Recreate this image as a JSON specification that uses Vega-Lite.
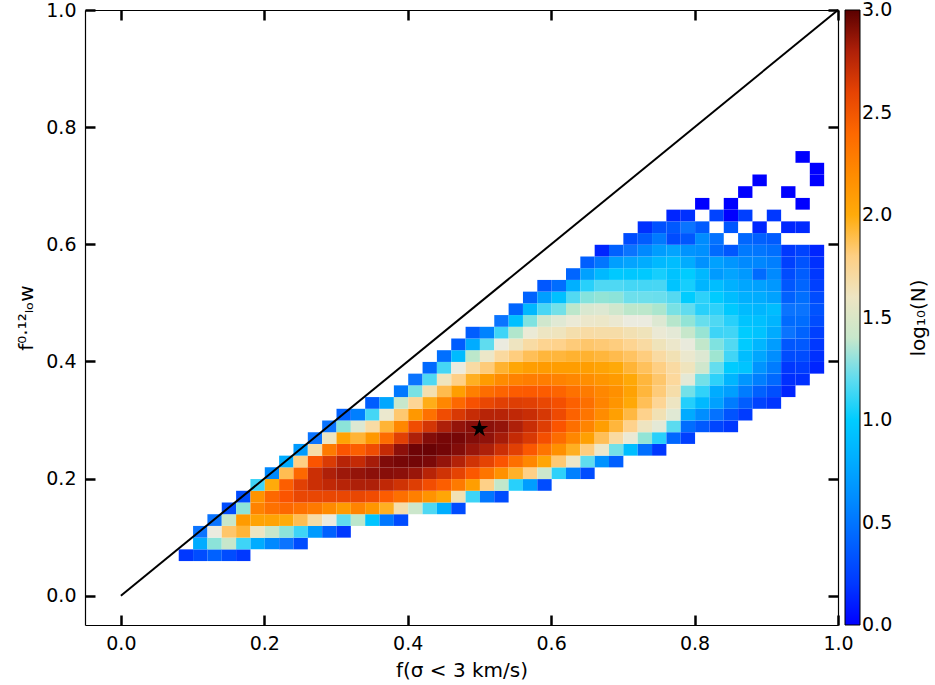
{
  "$schema": "https://vega.github.io/schema/vega-lite/v6.json",
  "width": 753,
  "height": 615,
  "autosize": {"type": "none"},
  "padding": {"left": 85, "top": 10, "right": 97, "bottom": 60},
  "background": "white",
  "config": {
    "view": {"stroke": null},
    "font": "DejaVu Sans",
    "axis": {
      "domainColor": "black", "domainWidth": 1.2, "tickColor": "black", "tickWidth": 2.5,
      "tickSize": -10, "labelPadding": 19, "labelFontSize": 19, "labelColor": "black",
      "labelFont": "DejaVu Sans", "titleFont": "DejaVu Sans", "titleFontSize": 20,
      "titleFontWeight": "normal", "titleColor": "black", "grid": false, "labelFlush": false
    },
    "legend": {
      "offset": 5, "padding": 0, "gradientLength": 615, "gradientThickness": 15,
      "gradientStrokeColor": "black", "gradientStrokeWidth": 1, "labelFontSize": 19,
      "labelColor": "black", "labelFont": "DejaVu Sans", "labelOffset": 9,
      "titleFont": "DejaVu Sans", "titleFontSize": 20, "titleFontWeight": "normal",
      "titleColor": "black", "titleOrient": "right", "titlePadding": 10
    }
  },
  "datasets": {
    "cells": [
      {"x":0.09,"y":0.07,"v":0.2},
      {"x":0.11,"y":0.07,"v":0.3},{"x":0.11,"y":0.09,"v":0.8},{"x":0.11,"y":0.11,"v":0.5},
      {"x":0.13,"y":0.07,"v":0.4},{"x":0.13,"y":0.09,"v":1.3},{"x":0.13,"y":0.11,"v":1.5},{"x":0.13,"y":0.13,"v":0.5},
      {"x":0.15,"y":0.07,"v":0.3},{"x":0.15,"y":0.09,"v":1.4},{"x":0.15,"y":0.11,"v":1.85},{"x":0.15,"y":0.13,"v":1.4},{"x":0.15,"y":0.15,"v":0.3},
      {"x":0.17,"y":0.07,"v":0.2},{"x":0.17,"y":0.09,"v":1.1},{"x":0.17,"y":0.11,"v":1.95},{"x":0.17,"y":0.13,"v":2.1},{"x":0.17,"y":0.15,"v":1.3},{"x":0.17,"y":0.17,"v":0.3},
      {"x":0.19,"y":0.09,"v":0.8},{"x":0.19,"y":0.11,"v":1.6},{"x":0.19,"y":0.13,"v":2.05},{"x":0.19,"y":0.15,"v":2.25},{"x":0.19,"y":0.17,"v":2.15},{"x":0.19,"y":0.19,"v":1.1},
      {"x":0.21,"y":0.09,"v":0.6},{"x":0.21,"y":0.11,"v":1.4},{"x":0.21,"y":0.13,"v":2.05},{"x":0.21,"y":0.15,"v":2.35},{"x":0.21,"y":0.17,"v":2.4},{"x":0.21,"y":0.19,"v":2.0},{"x":0.21,"y":0.21,"v":0.6},
      {"x":0.23,"y":0.09,"v":0.5},{"x":0.23,"y":0.11,"v":1.3},{"x":0.23,"y":0.13,"v":2.0},{"x":0.23,"y":0.15,"v":2.4},{"x":0.23,"y":0.17,"v":2.5},{"x":0.23,"y":0.19,"v":2.45},{"x":0.23,"y":0.21,"v":1.9},{"x":0.23,"y":0.23,"v":0.8},
      {"x":0.25,"y":0.09,"v":0.3},{"x":0.25,"y":0.11,"v":1.1},{"x":0.25,"y":0.13,"v":1.9},{"x":0.25,"y":0.15,"v":2.35},{"x":0.25,"y":0.17,"v":2.58},{"x":0.25,"y":0.19,"v":2.62},{"x":0.25,"y":0.21,"v":2.4},{"x":0.25,"y":0.23,"v":1.8},{"x":0.25,"y":0.25,"v":0.7},
      {"x":0.27,"y":0.11,"v":0.7},{"x":0.27,"y":0.13,"v":1.7},{"x":0.27,"y":0.15,"v":2.3},{"x":0.27,"y":0.17,"v":2.58},{"x":0.27,"y":0.19,"v":2.72},{"x":0.27,"y":0.21,"v":2.72},{"x":0.27,"y":0.23,"v":2.5},{"x":0.27,"y":0.25,"v":1.7},{"x":0.27,"y":0.27,"v":0.5},
      {"x":0.29,"y":0.11,"v":0.4},{"x":0.29,"y":0.13,"v":1.5},{"x":0.29,"y":0.15,"v":2.2},{"x":0.29,"y":0.17,"v":2.58},{"x":0.29,"y":0.19,"v":2.76},{"x":0.29,"y":0.21,"v":2.8},{"x":0.29,"y":0.23,"v":2.65},{"x":0.29,"y":0.25,"v":2.3},{"x":0.29,"y":0.27,"v":1.6},{"x":0.29,"y":0.29,"v":0.5},
      {"x":0.31,"y":0.11,"v":0.2},{"x":0.31,"y":0.13,"v":1.2},{"x":0.31,"y":0.15,"v":2.1},{"x":0.31,"y":0.17,"v":2.58},{"x":0.31,"y":0.19,"v":2.78},{"x":0.31,"y":0.21,"v":2.84},{"x":0.31,"y":0.23,"v":2.78},{"x":0.31,"y":0.25,"v":2.5},{"x":0.31,"y":0.27,"v":2.05},{"x":0.31,"y":0.29,"v":1.3},{"x":0.31,"y":0.31,"v":0.4},
      {"x":0.33,"y":0.13,"v":1.38},{"x":0.33,"y":0.15,"v":2.24},{"x":0.33,"y":0.17,"v":2.58},{"x":0.33,"y":0.19,"v":2.8},{"x":0.33,"y":0.21,"v":2.86},{"x":0.33,"y":0.23,"v":2.75},{"x":0.33,"y":0.25,"v":2.45},{"x":0.33,"y":0.27,"v":1.95},{"x":0.33,"y":0.29,"v":1.45},{"x":0.33,"y":0.31,"v":0.55},
      {"x":0.35,"y":0.13,"v":0.95},{"x":0.35,"y":0.15,"v":2.13},{"x":0.35,"y":0.17,"v":2.55},{"x":0.35,"y":0.19,"v":2.8},{"x":0.35,"y":0.21,"v":2.88},{"x":0.35,"y":0.23,"v":2.82},{"x":0.35,"y":0.25,"v":2.55},{"x":0.35,"y":0.27,"v":2.12},{"x":0.35,"y":0.29,"v":1.71},{"x":0.35,"y":0.31,"v":1.12},{"x":0.35,"y":0.33,"v":0.38},
      {"x":0.37,"y":0.13,"v":0.52},{"x":0.37,"y":0.15,"v":1.98},{"x":0.37,"y":0.17,"v":2.46},{"x":0.37,"y":0.19,"v":2.76},{"x":0.37,"y":0.21,"v":2.89},{"x":0.37,"y":0.23,"v":2.91},{"x":0.37,"y":0.25,"v":2.75},{"x":0.37,"y":0.27,"v":2.38},{"x":0.37,"y":0.29,"v":1.95},{"x":0.37,"y":0.31,"v":1.56},{"x":0.37,"y":0.33,"v":0.77},
      {"x":0.39,"y":0.13,"v":0.3},{"x":0.39,"y":0.15,"v":1.68},{"x":0.39,"y":0.17,"v":2.36},{"x":0.39,"y":0.19,"v":2.7},{"x":0.39,"y":0.21,"v":2.88},{"x":0.39,"y":0.23,"v":2.93},{"x":0.39,"y":0.25,"v":2.88},{"x":0.39,"y":0.27,"v":2.62},{"x":0.39,"y":0.29,"v":2.22},{"x":0.39,"y":0.31,"v":1.84},{"x":0.39,"y":0.33,"v":1.4},{"x":0.39,"y":0.35,"v":0.52},
      {"x":0.41,"y":0.15,"v":1.41},{"x":0.41,"y":0.17,"v":2.27},{"x":0.41,"y":0.19,"v":2.63},{"x":0.41,"y":0.21,"v":2.85},{"x":0.41,"y":0.23,"v":2.94},{"x":0.41,"y":0.25,"v":2.95},{"x":0.41,"y":0.27,"v":2.8},{"x":0.41,"y":0.29,"v":2.55},{"x":0.41,"y":0.31,"v":2.12},{"x":0.41,"y":0.33,"v":1.76},{"x":0.41,"y":0.35,"v":1.27},{"x":0.41,"y":0.37,"v":0.5},
      {"x":0.43,"y":0.15,"v":1.15},{"x":0.43,"y":0.17,"v":2.15},{"x":0.43,"y":0.19,"v":2.54},{"x":0.43,"y":0.21,"v":2.78},{"x":0.43,"y":0.23,"v":2.92},{"x":0.43,"y":0.25,"v":2.96},{"x":0.43,"y":0.27,"v":2.9},{"x":0.43,"y":0.29,"v":2.68},{"x":0.43,"y":0.31,"v":2.35},{"x":0.43,"y":0.33,"v":1.99},{"x":0.43,"y":0.35,"v":1.67},{"x":0.43,"y":0.37,"v":1.15},{"x":0.43,"y":0.39,"v":0.44},
      {"x":0.45,"y":0.15,"v":0.81},{"x":0.45,"y":0.17,"v":2.03},{"x":0.45,"y":0.19,"v":2.45},{"x":0.45,"y":0.21,"v":2.7},{"x":0.45,"y":0.23,"v":2.86},{"x":0.45,"y":0.25,"v":2.94},{"x":0.45,"y":0.27,"v":2.93},{"x":0.45,"y":0.29,"v":2.8},{"x":0.45,"y":0.31,"v":2.55},{"x":0.45,"y":0.33,"v":2.22},{"x":0.45,"y":0.35,"v":1.91},{"x":0.45,"y":0.37,"v":1.62},{"x":0.45,"y":0.39,"v":1.12},{"x":0.45,"y":0.41,"v":0.47},
      {"x":0.47,"y":0.15,"v":0.3},{"x":0.47,"y":0.17,"v":1.65},{"x":0.47,"y":0.19,"v":2.3},{"x":0.47,"y":0.21,"v":2.6},{"x":0.47,"y":0.23,"v":2.79},{"x":0.47,"y":0.25,"v":2.9},{"x":0.47,"y":0.27,"v":2.93},{"x":0.47,"y":0.29,"v":2.86},{"x":0.47,"y":0.31,"v":2.66},{"x":0.47,"y":0.33,"v":2.4},{"x":0.47,"y":0.35,"v":2.08},{"x":0.47,"y":0.37,"v":1.79},{"x":0.47,"y":0.39,"v":1.5},{"x":0.47,"y":0.41,"v":0.89},{"x":0.47,"y":0.43,"v":0.38},
      {"x":0.49,"y":0.17,"v":1.1},{"x":0.49,"y":0.19,"v":2.08},{"x":0.49,"y":0.21,"v":2.48},{"x":0.49,"y":0.23,"v":2.7},{"x":0.49,"y":0.25,"v":2.85},{"x":0.49,"y":0.27,"v":2.9},{"x":0.49,"y":0.29,"v":2.89},{"x":0.49,"y":0.31,"v":2.74},{"x":0.49,"y":0.33,"v":2.52},{"x":0.49,"y":0.35,"v":2.27},{"x":0.49,"y":0.37,"v":1.98},{"x":0.49,"y":0.39,"v":1.71},{"x":0.49,"y":0.41,"v":1.38},{"x":0.49,"y":0.43,"v":0.8},{"x":0.49,"y":0.45,"v":0.38},
      {"x":0.51,"y":0.17,"v":0.51},{"x":0.51,"y":0.19,"v":1.79},{"x":0.51,"y":0.21,"v":2.33},{"x":0.51,"y":0.23,"v":2.6},{"x":0.51,"y":0.25,"v":2.8},{"x":0.51,"y":0.27,"v":2.87},{"x":0.51,"y":0.29,"v":2.88},{"x":0.51,"y":0.31,"v":2.78},{"x":0.51,"y":0.33,"v":2.58},{"x":0.51,"y":0.35,"v":2.37},{"x":0.51,"y":0.37,"v":2.1},{"x":0.51,"y":0.39,"v":1.82},{"x":0.51,"y":0.41,"v":1.58},{"x":0.51,"y":0.43,"v":1.2},{"x":0.51,"y":0.45,"v":0.57},
      {"x":0.53,"y":0.17,"v":0.3},{"x":0.53,"y":0.19,"v":1.39},{"x":0.53,"y":0.21,"v":2.16},{"x":0.53,"y":0.23,"v":2.5},{"x":0.53,"y":0.25,"v":2.72},{"x":0.53,"y":0.27,"v":2.82},{"x":0.53,"y":0.29,"v":2.86},{"x":0.53,"y":0.31,"v":2.78},{"x":0.53,"y":0.33,"v":2.62},{"x":0.53,"y":0.35,"v":2.42},{"x":0.53,"y":0.37,"v":2.2},{"x":0.53,"y":0.39,"v":1.96},{"x":0.53,"y":0.41,"v":1.73},{"x":0.53,"y":0.43,"v":1.5},{"x":0.53,"y":0.45,"v":1.1},{"x":0.53,"y":0.47,"v":0.5},
      {"x":0.55,"y":0.19,"v":1.05},{"x":0.55,"y":0.21,"v":1.97},{"x":0.55,"y":0.23,"v":2.36},{"x":0.55,"y":0.25,"v":2.62},{"x":0.55,"y":0.27,"v":2.75},{"x":0.55,"y":0.29,"v":2.8},{"x":0.55,"y":0.31,"v":2.76},{"x":0.55,"y":0.33,"v":2.63},{"x":0.55,"y":0.35,"v":2.46},{"x":0.55,"y":0.37,"v":2.25},{"x":0.55,"y":0.39,"v":2.03},{"x":0.55,"y":0.41,"v":1.81},{"x":0.55,"y":0.43,"v":1.61},{"x":0.55,"y":0.45,"v":1.36},{"x":0.55,"y":0.47,"v":0.92},{"x":0.55,"y":0.49,"v":0.42},
      {"x":0.57,"y":0.19,"v":0.71},{"x":0.57,"y":0.21,"v":1.79},{"x":0.57,"y":0.23,"v":2.22},{"x":0.57,"y":0.25,"v":2.48},{"x":0.57,"y":0.27,"v":2.66},{"x":0.57,"y":0.29,"v":2.73},{"x":0.57,"y":0.31,"v":2.73},{"x":0.57,"y":0.33,"v":2.62},{"x":0.57,"y":0.35,"v":2.47},{"x":0.57,"y":0.37,"v":2.28},{"x":0.57,"y":0.39,"v":2.08},{"x":0.57,"y":0.41,"v":1.89},{"x":0.57,"y":0.43,"v":1.71},{"x":0.57,"y":0.45,"v":1.53},{"x":0.57,"y":0.47,"v":1.28},{"x":0.57,"y":0.49,"v":0.87},{"x":0.57,"y":0.51,"v":0.41},
      {"x":0.59,"y":0.19,"v":0.3},{"x":0.59,"y":0.21,"v":1.41},{"x":0.59,"y":0.23,"v":2.04},{"x":0.59,"y":0.25,"v":2.33},{"x":0.59,"y":0.27,"v":2.53},{"x":0.59,"y":0.29,"v":2.63},{"x":0.59,"y":0.31,"v":2.67},{"x":0.59,"y":0.33,"v":2.58},{"x":0.59,"y":0.35,"v":2.46},{"x":0.59,"y":0.37,"v":2.28},{"x":0.59,"y":0.39,"v":2.1},{"x":0.59,"y":0.41,"v":1.94},{"x":0.59,"y":0.43,"v":1.77},{"x":0.59,"y":0.45,"v":1.6},{"x":0.59,"y":0.47,"v":1.42},{"x":0.59,"y":0.49,"v":1.13},{"x":0.59,"y":0.51,"v":0.72},{"x":0.59,"y":0.53,"v":0.35},
      {"x":0.61,"y":0.21,"v":1.06},{"x":0.61,"y":0.23,"v":1.83},{"x":0.61,"y":0.25,"v":2.17},{"x":0.61,"y":0.27,"v":2.38},{"x":0.61,"y":0.29,"v":2.5},{"x":0.61,"y":0.31,"v":2.56},{"x":0.61,"y":0.33,"v":2.53},{"x":0.61,"y":0.35,"v":2.42},{"x":0.61,"y":0.37,"v":2.25},{"x":0.61,"y":0.39,"v":2.09},{"x":0.61,"y":0.41,"v":1.94},{"x":0.61,"y":0.43,"v":1.78},{"x":0.61,"y":0.45,"v":1.62},{"x":0.61,"y":0.47,"v":1.46},{"x":0.61,"y":0.49,"v":1.26},{"x":0.61,"y":0.51,"v":0.92},{"x":0.61,"y":0.53,"v":0.46},
      {"x":0.63,"y":0.21,"v":0.56},{"x":0.63,"y":0.23,"v":1.58},{"x":0.63,"y":0.25,"v":1.98},{"x":0.63,"y":0.27,"v":2.22},{"x":0.63,"y":0.29,"v":2.36},{"x":0.63,"y":0.31,"v":2.43},{"x":0.63,"y":0.33,"v":2.44},{"x":0.63,"y":0.35,"v":2.35},{"x":0.63,"y":0.37,"v":2.22},{"x":0.63,"y":0.39,"v":2.09},{"x":0.63,"y":0.41,"v":1.96},{"x":0.63,"y":0.43,"v":1.82},{"x":0.63,"y":0.45,"v":1.68},{"x":0.63,"y":0.47,"v":1.53},{"x":0.63,"y":0.49,"v":1.38},{"x":0.63,"y":0.51,"v":1.16},{"x":0.63,"y":0.53,"v":0.82},{"x":0.63,"y":0.55,"v":0.42},
      {"x":0.65,"y":0.21,"v":0.3},{"x":0.65,"y":0.23,"v":1.2},{"x":0.65,"y":0.25,"v":1.81},{"x":0.65,"y":0.27,"v":2.07},{"x":0.65,"y":0.29,"v":2.24},{"x":0.65,"y":0.31,"v":2.33},{"x":0.65,"y":0.33,"v":2.36},{"x":0.65,"y":0.35,"v":2.29},{"x":0.65,"y":0.37,"v":2.18},{"x":0.65,"y":0.39,"v":2.08},{"x":0.65,"y":0.41,"v":1.96},{"x":0.65,"y":0.43,"v":1.85},{"x":0.65,"y":0.45,"v":1.71},{"x":0.65,"y":0.47,"v":1.57},{"x":0.65,"y":0.49,"v":1.44},{"x":0.65,"y":0.51,"v":1.29},{"x":0.65,"y":0.53,"v":1.05},{"x":0.65,"y":0.55,"v":0.73},{"x":0.65,"y":0.57,"v":0.39},
      {"x":0.67,"y":0.23,"v":0.65},{"x":0.67,"y":0.25,"v":1.57},{"x":0.67,"y":0.27,"v":1.89},{"x":0.67,"y":0.29,"v":2.08},{"x":0.67,"y":0.31,"v":2.19},{"x":0.67,"y":0.33,"v":2.24},{"x":0.67,"y":0.35,"v":2.22},{"x":0.67,"y":0.37,"v":2.14},{"x":0.67,"y":0.39,"v":2.05},{"x":0.67,"y":0.41,"v":1.94},{"x":0.67,"y":0.43,"v":1.83},{"x":0.67,"y":0.45,"v":1.7},{"x":0.67,"y":0.47,"v":1.58},{"x":0.67,"y":0.49,"v":1.45},{"x":0.67,"y":0.51,"v":1.31},{"x":0.67,"y":0.53,"v":1.15},{"x":0.67,"y":0.55,"v":0.88},{"x":0.67,"y":0.57,"v":0.51},{"x":0.67,"y":0.59,"v":0.1},
      {"x":0.69,"y":0.23,"v":0.39},{"x":0.69,"y":0.25,"v":1.26},{"x":0.69,"y":0.27,"v":1.72},{"x":0.69,"y":0.29,"v":1.94},{"x":0.69,"y":0.31,"v":2.07},{"x":0.69,"y":0.33,"v":2.14},{"x":0.69,"y":0.35,"v":2.17},{"x":0.69,"y":0.37,"v":2.1},{"x":0.69,"y":0.39,"v":2.01},{"x":0.69,"y":0.41,"v":1.91},{"x":0.69,"y":0.43,"v":1.81},{"x":0.69,"y":0.45,"v":1.7},{"x":0.69,"y":0.47,"v":1.55},{"x":0.69,"y":0.49,"v":1.42},{"x":0.69,"y":0.51,"v":1.3},{"x":0.69,"y":0.53,"v":1.15},{"x":0.69,"y":0.55,"v":0.98},{"x":0.69,"y":0.57,"v":0.72},{"x":0.69,"y":0.59,"v":0.4},
      {"x":0.71,"y":0.25,"v":0.91},{"x":0.71,"y":0.27,"v":1.54},{"x":0.71,"y":0.29,"v":1.78},{"x":0.71,"y":0.31,"v":1.93},{"x":0.71,"y":0.33,"v":2.02},{"x":0.71,"y":0.35,"v":2.06},{"x":0.71,"y":0.37,"v":2.02},{"x":0.71,"y":0.39,"v":1.95},{"x":0.71,"y":0.41,"v":1.87},{"x":0.71,"y":0.43,"v":1.77},{"x":0.71,"y":0.45,"v":1.66},{"x":0.71,"y":0.47,"v":1.5},{"x":0.71,"y":0.49,"v":1.38},{"x":0.71,"y":0.51,"v":1.25},{"x":0.71,"y":0.53,"v":1.12},{"x":0.71,"y":0.55,"v":0.97},{"x":0.71,"y":0.57,"v":0.75},{"x":0.71,"y":0.59,"v":0.5},{"x":0.71,"y":0.61,"v":0.3},
      {"x":0.73,"y":0.25,"v":0.47},{"x":0.73,"y":0.27,"v":1.31},{"x":0.73,"y":0.29,"v":1.61},{"x":0.73,"y":0.31,"v":1.78},{"x":0.73,"y":0.33,"v":1.89},{"x":0.73,"y":0.35,"v":1.94},{"x":0.73,"y":0.37,"v":1.94},{"x":0.73,"y":0.39,"v":1.88},{"x":0.73,"y":0.41,"v":1.81},{"x":0.73,"y":0.43,"v":1.72},{"x":0.73,"y":0.45,"v":1.63},{"x":0.73,"y":0.47,"v":1.5},{"x":0.73,"y":0.49,"v":1.38},{"x":0.73,"y":0.51,"v":1.25},{"x":0.73,"y":0.53,"v":1.12},{"x":0.73,"y":0.55,"v":0.98},{"x":0.73,"y":0.57,"v":0.8},{"x":0.73,"y":0.59,"v":0.6},{"x":0.73,"y":0.61,"v":0.38},{"x":0.73,"y":0.63,"v":0.15},
      {"x":0.75,"y":0.25,"v":0.2},{"x":0.75,"y":0.27,"v":1.05},{"x":0.75,"y":0.29,"v":1.47},{"x":0.75,"y":0.31,"v":1.65},{"x":0.75,"y":0.33,"v":1.76},{"x":0.75,"y":0.35,"v":1.82},{"x":0.75,"y":0.37,"v":1.85},{"x":0.75,"y":0.39,"v":1.8},{"x":0.75,"y":0.41,"v":1.72},{"x":0.75,"y":0.43,"v":1.63},{"x":0.75,"y":0.45,"v":1.54},{"x":0.75,"y":0.47,"v":1.45},{"x":0.75,"y":0.49,"v":1.35},{"x":0.75,"y":0.51,"v":1.24},{"x":0.75,"y":0.53,"v":1.13},{"x":0.75,"y":0.55,"v":1.02},{"x":0.75,"y":0.57,"v":0.88},{"x":0.75,"y":0.59,"v":0.71},{"x":0.75,"y":0.61,"v":0.53},{"x":0.75,"y":0.63,"v":0.32},
      {"x":0.77,"y":0.27,"v":0.43},{"x":0.77,"y":0.29,"v":1.19},{"x":0.77,"y":0.31,"v":1.46},{"x":0.77,"y":0.33,"v":1.6},{"x":0.77,"y":0.35,"v":1.69},{"x":0.77,"y":0.37,"v":1.74},{"x":0.77,"y":0.39,"v":1.72},{"x":0.77,"y":0.41,"v":1.65},{"x":0.77,"y":0.43,"v":1.57},{"x":0.77,"y":0.45,"v":1.47},{"x":0.77,"y":0.47,"v":1.37},{"x":0.77,"y":0.49,"v":1.27},{"x":0.77,"y":0.51,"v":1.17},{"x":0.77,"y":0.53,"v":0.95},{"x":0.77,"y":0.55,"v":0.94},{"x":0.77,"y":0.57,"v":0.9},{"x":0.77,"y":0.59,"v":0.75},{"x":0.77,"y":0.61,"v":0.3},{"x":0.77,"y":0.63,"v":0.36},{"x":0.77,"y":0.65,"v":0.1},
      {"x":0.79,"y":0.27,"v":0.25},{"x":0.79,"y":0.29,"v":0.46},{"x":0.79,"y":0.31,"v":0.79},{"x":0.79,"y":0.33,"v":1.04},{"x":0.79,"y":0.35,"v":1.26},{"x":0.79,"y":0.37,"v":1.47},{"x":0.79,"y":0.39,"v":1.62},{"x":0.79,"y":0.41,"v":1.56},{"x":0.79,"y":0.43,"v":1.49},{"x":0.79,"y":0.45,"v":1.4},{"x":0.79,"y":0.47,"v":1.31},{"x":0.79,"y":0.49,"v":1.21},{"x":0.79,"y":0.51,"v":1.0},{"x":0.79,"y":0.53,"v":1.02},{"x":0.79,"y":0.55,"v":1.0},{"x":0.79,"y":0.57,"v":0.8},{"x":0.79,"y":0.59,"v":0.66},{"x":0.79,"y":0.61,"v":0.35},{"x":0.79,"y":0.63,"v":0.5},{"x":0.79,"y":0.65,"v":0.15},
      {"x":0.81,"y":0.29,"v":0.36},{"x":0.81,"y":0.31,"v":0.63},{"x":0.81,"y":0.33,"v":0.88},{"x":0.81,"y":0.35,"v":1.07},{"x":0.81,"y":0.37,"v":1.26},{"x":0.81,"y":0.39,"v":1.42},{"x":0.81,"y":0.41,"v":1.45},{"x":0.81,"y":0.43,"v":1.39},{"x":0.81,"y":0.45,"v":1.32},{"x":0.81,"y":0.47,"v":1.23},{"x":0.81,"y":0.49,"v":1.05},{"x":0.81,"y":0.51,"v":1.06},{"x":0.81,"y":0.53,"v":0.85},{"x":0.81,"y":0.55,"v":0.87},{"x":0.81,"y":0.57,"v":0.65},{"x":0.81,"y":0.59,"v":0.64},{"x":0.81,"y":0.61,"v":0.62},{"x":0.81,"y":0.63,"v":0.37},{"x":0.81,"y":0.67,"v":0.0},
      {"x":0.83,"y":0.29,"v":0.27},{"x":0.83,"y":0.31,"v":0.49},{"x":0.83,"y":0.33,"v":0.73},{"x":0.83,"y":0.35,"v":0.8},{"x":0.83,"y":0.37,"v":1.06},{"x":0.83,"y":0.39,"v":1.22},{"x":0.83,"y":0.41,"v":1.33},{"x":0.83,"y":0.43,"v":1.28},{"x":0.83,"y":0.45,"v":1.1},{"x":0.83,"y":0.47,"v":1.15},{"x":0.83,"y":0.49,"v":1.06},{"x":0.83,"y":0.51,"v":0.99},{"x":0.83,"y":0.53,"v":0.91},{"x":0.83,"y":0.55,"v":0.7},{"x":0.83,"y":0.57,"v":0.73},{"x":0.83,"y":0.59,"v":0.45},{"x":0.83,"y":0.61,"v":0.49},{"x":0.83,"y":0.65,"v":0.26},
      {"x":0.85,"y":0.29,"v":0.2},{"x":0.85,"y":0.31,"v":0.33},{"x":0.85,"y":0.33,"v":0.54},{"x":0.85,"y":0.35,"v":0.72},{"x":0.85,"y":0.37,"v":0.85},{"x":0.85,"y":0.39,"v":0.99},{"x":0.85,"y":0.41,"v":1.11},{"x":0.85,"y":0.43,"v":1.16},{"x":0.85,"y":0.45,"v":1.11},{"x":0.85,"y":0.47,"v":1.05},{"x":0.85,"y":0.49,"v":0.98},{"x":0.85,"y":0.51,"v":0.9},{"x":0.85,"y":0.53,"v":0.83},{"x":0.85,"y":0.55,"v":0.75},{"x":0.85,"y":0.57,"v":0.67},{"x":0.85,"y":0.59,"v":0.35},{"x":0.85,"y":0.63,"v":0.35},{"x":0.85,"y":0.65,"v":0.0},{"x":0.85,"y":0.67,"v":0.0},
      {"x":0.87,"y":0.31,"v":0.22},{"x":0.87,"y":0.33,"v":0.38},{"x":0.87,"y":0.35,"v":0.54},{"x":0.87,"y":0.37,"v":0.67},{"x":0.87,"y":0.39,"v":0.95},{"x":0.87,"y":0.41,"v":0.9},{"x":0.87,"y":0.43,"v":0.99},{"x":0.87,"y":0.45,"v":1.0},{"x":0.87,"y":0.47,"v":0.95},{"x":0.87,"y":0.49,"v":0.89},{"x":0.87,"y":0.51,"v":0.82},{"x":0.87,"y":0.53,"v":0.76},{"x":0.87,"y":0.55,"v":0.69},{"x":0.87,"y":0.57,"v":0.61},{"x":0.87,"y":0.59,"v":0.53},{"x":0.87,"y":0.61,"v":0.43},{"x":0.87,"y":0.65,"v":0.24},{"x":0.87,"y":0.69,"v":0.0},
      {"x":0.89,"y":0.33,"v":0.26},{"x":0.89,"y":0.35,"v":0.4},{"x":0.89,"y":0.37,"v":0.55},{"x":0.89,"y":0.39,"v":0.66},{"x":0.89,"y":0.41,"v":0.76},{"x":0.89,"y":0.43,"v":0.86},{"x":0.89,"y":0.45,"v":0.94},{"x":0.89,"y":0.47,"v":0.92},{"x":0.89,"y":0.49,"v":0.86},{"x":0.89,"y":0.51,"v":0.8},{"x":0.89,"y":0.53,"v":0.73},{"x":0.89,"y":0.55,"v":0.45},{"x":0.89,"y":0.57,"v":0.59},{"x":0.89,"y":0.59,"v":0.51},{"x":0.89,"y":0.61,"v":0.4},{"x":0.89,"y":0.63,"v":0.1},{"x":0.89,"y":0.71,"v":0.0},
      {"x":0.91,"y":0.33,"v":0.18},{"x":0.91,"y":0.35,"v":0.31},{"x":0.91,"y":0.37,"v":0.44},{"x":0.91,"y":0.39,"v":0.54},{"x":0.91,"y":0.41,"v":0.63},{"x":0.91,"y":0.43,"v":0.71},{"x":0.91,"y":0.45,"v":0.79},{"x":0.91,"y":0.47,"v":0.85},{"x":0.91,"y":0.49,"v":0.9},{"x":0.91,"y":0.51,"v":0.74},{"x":0.91,"y":0.53,"v":0.68},{"x":0.91,"y":0.55,"v":0.61},{"x":0.91,"y":0.57,"v":0.55},{"x":0.91,"y":0.59,"v":0.47},{"x":0.91,"y":0.61,"v":0.37},{"x":0.91,"y":0.65,"v":0.19},
      {"x":0.93,"y":0.35,"v":0.1},{"x":0.93,"y":0.37,"v":0.15},{"x":0.93,"y":0.39,"v":0.2},{"x":0.93,"y":0.41,"v":0.3},{"x":0.93,"y":0.43,"v":0.35},{"x":0.93,"y":0.45,"v":0.5},{"x":0.93,"y":0.47,"v":0.45},{"x":0.93,"y":0.49,"v":0.5},{"x":0.93,"y":0.51,"v":0.4},{"x":0.93,"y":0.53,"v":0.35},{"x":0.93,"y":0.55,"v":0.3},{"x":0.93,"y":0.57,"v":0.25},{"x":0.93,"y":0.59,"v":0.2},{"x":0.93,"y":0.63,"v":0.1},{"x":0.93,"y":0.69,"v":0.0},
      {"x":0.95,"y":0.37,"v":0.15},{"x":0.95,"y":0.39,"v":0.23},{"x":0.95,"y":0.41,"v":0.3},{"x":0.95,"y":0.43,"v":0.36},{"x":0.95,"y":0.45,"v":0.41},{"x":0.95,"y":0.47,"v":0.46},{"x":0.95,"y":0.49,"v":0.5},{"x":0.95,"y":0.51,"v":0.47},{"x":0.95,"y":0.53,"v":0.42},{"x":0.95,"y":0.55,"v":0.38},{"x":0.95,"y":0.57,"v":0.33},{"x":0.95,"y":0.59,"v":0.26},{"x":0.95,"y":0.63,"v":0.12},{"x":0.95,"y":0.67,"v":0.0},{"x":0.95,"y":0.75,"v":0.0},
      {"x":0.97,"y":0.39,"v":0.1},{"x":0.97,"y":0.41,"v":0.15},{"x":0.97,"y":0.43,"v":0.2},{"x":0.97,"y":0.45,"v":0.25},{"x":0.97,"y":0.47,"v":0.3},{"x":0.97,"y":0.49,"v":0.33},{"x":0.97,"y":0.51,"v":0.3},{"x":0.97,"y":0.53,"v":0.25},{"x":0.97,"y":0.55,"v":0.2},{"x":0.97,"y":0.57,"v":0.15},{"x":0.97,"y":0.59,"v":0.1},{"x":0.97,"y":0.71,"v":0.0},{"x":0.97,"y":0.73,"v":0.0}
    ],
    "diag": [{"x": 0, "y": 0}, {"x": 1, "y": 1}],
    "star": [{"x": 0.5, "y": 0.285}]
  },
  "layer": [
    {
      "data": {"name": "cells"},
      "mark": {"type": "rect"},
      "encoding": {
        "x": {
          "field": "x", "type": "quantitative",
          "bin": {"step": 0.02, "extent": [0, 1]},
          "scale": {"domain": [-0.05, 1.0], "nice": false, "zero": false},
          "axis": {"orient": "bottom", "values": [0, 0.2, 0.4, 0.6, 0.8, 1.0], "format": ".1f", "title": "f(σ < 3 km/s)", "titlePadding": 7}
        },
        "y": {
          "field": "y", "type": "quantitative",
          "bin": {"step": 0.02, "extent": [0, 1]},
          "scale": {"domain": [-0.05, 1.0], "nice": false, "zero": false},
          "axis": {"orient": "left", "values": [0, 0.2, 0.4, 0.6, 0.8, 1.0], "format": ".1f", "title": "f⁰·¹²ₗₒw", "titlePadding": 9}
        },
        "color": {
          "field": "v", "type": "quantitative",
          "scale": {
            "domain": [0, 0.25, 0.5, 0.75, 1.0, 1.25, 1.5, 1.75, 2.0, 2.25, 2.5, 2.75, 3.0],
            "range": ["#0000ff", "#0040ff", "#0a74ff", "#03a4ff", "#00ccff", "#6ddfec", "#ebebdf", "#fdd79a", "#ffab0a", "#ff8200", "#fb5400", "#c42a05", "#5a0000"]
          },
          "legend": {
            "title": "log₁₀(N)", "values": [0, 0.5, 1, 1.5, 2, 2.5, 3], "format": ".1f",
            "encode": {
              "title": {"update": {"angle": {"value": -90}, "dy": {"value": 27}}},
              "labels": {"update": {"baseline": {"value": "middle"}}}
            }
          }
        }
      }
    },
    {
      "data": {"name": "diag"},
      "mark": {"type": "line", "color": "black", "strokeWidth": 2},
      "encoding": {
        "x": {"field": "x", "type": "quantitative", "scale": {"domain": [-0.05, 1.0], "nice": false, "zero": false},
              "axis": {"orient": "top", "values": [0, 0.2, 0.4, 0.6, 0.8, 1.0], "labels": false, "title": null}},
        "y": {"field": "y", "type": "quantitative", "scale": {"domain": [-0.05, 1.0], "nice": false, "zero": false},
              "axis": {"orient": "right", "values": [0, 0.2, 0.4, 0.6, 0.8, 1.0], "labels": false, "title": null}}
      }
    },
    {
      "data": {"name": "star"},
      "mark": {"type": "point", "shape": "M0,-1L0.2245,-0.309L0.9511,-0.309L0.3633,0.118L0.5878,0.809L0,0.382L-0.5878,0.809L-0.3633,0.118L-0.9511,-0.309L-0.2245,-0.309Z", "filled": true, "color": "black", "opacity": 1, "size": 340},
      "encoding": {
        "x": {"field": "x", "type": "quantitative", "scale": {"domain": [-0.05, 1.0], "nice": false, "zero": false}, "axis": null},
        "y": {"field": "y", "type": "quantitative", "scale": {"domain": [-0.05, 1.0], "nice": false, "zero": false}, "axis": null}
      }
    }
  ],
  "resolve": {"axis": {"x": "independent", "y": "independent"}}
}
